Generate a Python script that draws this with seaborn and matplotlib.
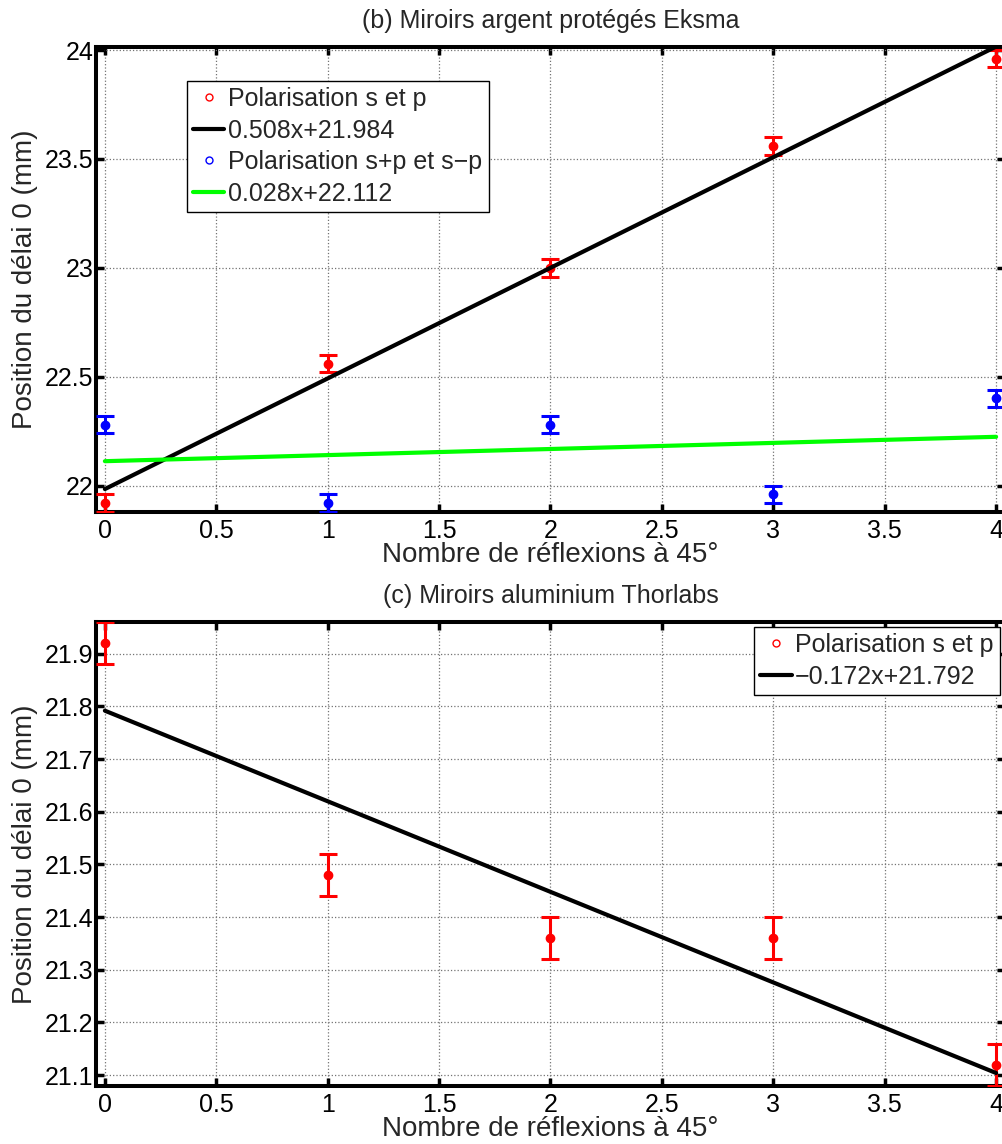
import numpy as np
import pandas as pd
import matplotlib
matplotlib.use("Agg")
import matplotlib.pyplot as plt
from matplotlib.lines import Line2D
from matplotlib.ticker import FormatStrFormatter, MultipleLocator
import seaborn as sns

# Nombre de réflexions à 45°
reflexions = [0, 1, 2, 3, 4]

# (b) miroirs argent protégés Eksma
eksma_s_p = [21.92, 22.56, 23.00, 23.56, 23.96]
eksma_sp_sm = [22.28, 21.92, 22.28, 21.96, 22.40]
eksma_err = [0.04, 0.04, 0.04, 0.04, 0.04]
fit_eksma_s_p = (0.508, 21.984)
fit_eksma_sp_sm = (0.028, 22.112)

# (c) miroirs aluminium Thorlabs
thor_s_p = [21.92, 21.48, 21.36, 21.36, 21.12]
thor_err = [0.04, 0.04, 0.04, 0.04, 0.04]
fit_thor = (-0.172, 21.792)

x_fit = [0, 4]

sns.set_style("ticks")
plt.rcParams['font.family'] = ['Liberation Sans', 'DejaVu Sans']
plt.rcParams['axes.unicode_minus'] = True


def droite(coef):
    # y = a*x + b aux extrémités
    return pd.DataFrame({'x': x_fit, 'y': np.polyval(coef, x_fit)})


def habiller(ax, ylim, ystep, titre):
    ax.set_xlim(-0.04, 4.04)
    ax.set_ylim(*ylim)
    ax.xaxis.set_major_locator(MultipleLocator(0.5))
    ax.yaxis.set_major_locator(MultipleLocator(ystep))
    ax.xaxis.set_major_formatter(FormatStrFormatter('%g'))
    ax.yaxis.set_major_formatter(FormatStrFormatter('%g'))
    ax.grid(True, linestyle=':', color='0.45', linewidth=0.9)
    ax.set_axisbelow(True)
    for sp in ax.spines.values():
        sp.set_visible(True)
        sp.set_linewidth(2.9)
        sp.set_color('black')
    ax.tick_params(direction='in', top=True, right=True, length=6, width=2.5,
                   labelsize=18, colors='black')
    ax.tick_params(axis='x', pad=5)
    ax.tick_params(axis='y', pad=2)
    ax.set_xlabel("Nombre de réflexions à 45°", fontsize=20)
    ax.set_ylabel("Position du délai 0 (mm)", fontsize=20)
    ax.xaxis.set_label_coords(0.5, -0.066)
    ax.yaxis.set_label_coords(-0.064, 0.5)
    ax.set_title(titre, fontsize=18, pad=14)


def legende(ax, handles, labels, loc, anchor):
    leg = ax.legend(handles, labels, loc=loc, bbox_to_anchor=anchor,
                    borderaxespad=0, frameon=True, fancybox=False,
                    edgecolor='black', framealpha=1, fontsize=18,
                    handlelength=1.25, handletextpad=0.15,
                    labelspacing=0.3, borderpad=0.25)
    leg.get_frame().set_linewidth(1.0)


def points(ax, y, err, couleur):
    ax.errorbar(reflexions, y, yerr=err, fmt='o', color=couleur, ms=6,
                elinewidth=2.2, capsize=6.5, capthick=2.2, zorder=3)


def h_point(c):
    return Line2D([], [], ls='none', marker='o', mfc='none', mec=c, ms=5, mew=1)


def h_ligne(c):
    return Line2D([], [], color=c, lw=3)


fig = plt.figure(figsize=(10.03, 11.44), dpi=100)
ax1 = fig.add_axes([0.0957, 0.5527, 0.9063, 0.4062])
ax2 = fig.add_axes([0.0957, 0.0510, 0.9063, 0.4051])

# (b)
points(ax1, eksma_s_p, eksma_err, 'red')
points(ax1, eksma_sp_sm, eksma_err, 'blue')
sns.lineplot(data=droite(fit_eksma_s_p), x='x', y='y', ax=ax1, color='black', lw=3, zorder=4)
sns.lineplot(data=droite(fit_eksma_sp_sm), x='x', y='y', ax=ax1, color=(0, 1, 0), lw=3, zorder=4)
habiller(ax1, (21.88, 24.014), 0.5, "(b) Miroirs argent protégés Eksma")
legende(ax1, [h_point('red'), h_ligne('black'), h_point('blue'), h_ligne((0, 1, 0))],
        ["Polarisation s et p", "0.508x+21.984", "Polarisation s+p et s\u2212p", "0.028x+22.112"],
        'upper left', (0.100, 0.927))

# (c)
points(ax2, thor_s_p, thor_err, 'red')
sns.lineplot(data=droite(fit_thor), x='x', y='y', ax=ax2, color='black', lw=3, zorder=4)
habiller(ax2, (21.08, 21.96), 0.1, "(c) Miroirs aluminium Thorlabs")
legende(ax2, [h_point('red'), h_ligne('black')],
        ["Polarisation s et p", "\u22120.172x+21.792"],
        'upper right', (0.9945, 0.99))

fig.savefig("out.png", dpi=100)
